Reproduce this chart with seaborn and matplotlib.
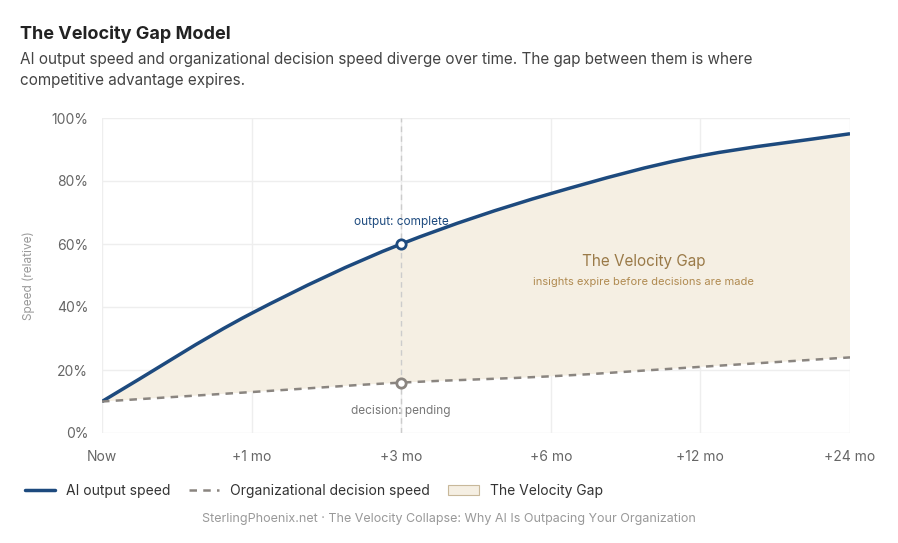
import matplotlib.pyplot as plt
import numpy as np
import seaborn as sns
from matplotlib.path import Path
from matplotlib.patches import PathPatch, Patch
from matplotlib.lines import Line2D

periods = ["Now", "+1 mo", "+3 mo", "+6 mo", "+12 mo", "+24 mo"]
ai_output = [10, 38, 60, 76, 88, 95]
org_decision = [10, 13, 16, 18, 21, 24]

BLUE = "#1d4a7e"
GREY = "#8a8580"
FILL = "#f5efe3"

sns.set_theme(style="white")
plt.rcParams["font.family"] = ["Inter", "DejaVu Sans"]


def smooth_verts(xs, ys):
    # cubic bezier segments with monotone tangents (chart-style smoothing)
    xs, ys = np.asarray(xs, float), np.asarray(ys, float)
    d = np.diff(ys) / np.diff(xs)
    m = np.zeros_like(ys)
    m[0], m[-1] = d[0], d[-1]
    for i in range(1, len(ys) - 1):
        m[i] = 0 if d[i - 1] * d[i] <= 0 else 2 / (1 / d[i - 1] + 1 / d[i])
    verts = [(xs[0], ys[0])]
    codes = [Path.MOVETO]
    for i in range(len(xs) - 1):
        h = xs[i + 1] - xs[i]
        verts += [(xs[i] + h / 3, ys[i] + m[i] * h / 3),
                  (xs[i + 1] - h / 3, ys[i + 1] - m[i + 1] * h / 3),
                  (xs[i + 1], ys[i + 1])]
        codes += [Path.CURVE4] * 3
    return verts, codes


fig = plt.figure(figsize=(8.98, 5.43), dpi=100)
ax = fig.add_axes([102 / 898, 110 / 543, 748 / 898, 315 / 543])
x = np.arange(len(periods))

v1, c1 = smooth_verts(x, ai_output)
v2, c2 = smooth_verts(x, org_decision)
# gap region: top curve forward, bottom curve reversed
rv = v2[::-1]
fill_verts = v1 + [rv[0]] + rv[1:] + [v1[0]]
fill_codes = c1 + [Path.LINETO] + c2[1:] + [Path.CLOSEPOLY]
ax.add_patch(PathPatch(Path(fill_verts, fill_codes), facecolor=FILL, edgecolor="none", zorder=1))
ax.add_patch(PathPatch(Path(v1, c1), facecolor="none", edgecolor=BLUE, lw=2.5, zorder=3))
ax.add_patch(PathPatch(Path(v2, c2), facecolor="none", edgecolor=GREY, lw=1.8, ls=(0, (3, 2.5)), zorder=3))

sns.scatterplot(x=[2], y=[ai_output[2]], ax=ax, s=45, color="white", edgecolor=BLUE, linewidth=2, zorder=4)
sns.scatterplot(x=[2], y=[org_decision[2]], ax=ax, s=45, color="white", edgecolor=GREY, linewidth=2, zorder=4)
ax.axvline(2, color="#cccccc", lw=1, ls=(0, (4, 3)), zorder=2)

ax.text(2, 65, "output: complete", ha="center", va="bottom", fontsize=8.5, color=BLUE)
ax.text(2, 9, "decision: pending", ha="center", va="top", fontsize=8.5, color="#777777")
ax.text(3.62, 54.5, "The Velocity Gap", ha="center", va="center", fontsize=11, color="#9a7a48")
ax.text(3.62, 48, "insights expire before decisions are made", ha="center", va="center", fontsize=8, color="#b08a50")

ax.set_xlim(0, 5)
ax.set_ylim(0, 100)
ax.set_xticks(x, periods)
ax.set_yticks(range(0, 101, 20), [f"{v}%" for v in range(0, 101, 20)])
ax.grid(True, color="#eeeeee", lw=1)
ax.set_axisbelow(True)
for s in ax.spines.values():
    s.set_visible(False)
ax.tick_params(colors="#666666", labelsize=10, length=0)
ax.tick_params(axis="x", pad=12)
ax.tick_params(axis="y", pad=10)
ax.set_ylabel("Speed (relative)", fontsize=8.5, color="#999999", labelpad=12)

fig.text(20 / 898, 1 - 34 / 543, "The Velocity Gap Model", fontsize=13, fontweight="bold", color="#222222", va="center")
fig.text(20 / 898, 1 - 60 / 543, "AI output speed and organizational decision speed diverge over time. The gap between them is where",
         fontsize=11, color="#444444", va="center")
fig.text(20 / 898, 1 - 80 / 543, "competitive advantage expires.", fontsize=11, color="#444444", va="center")

handles = [Line2D([], [], color=BLUE, lw=2.5),
           Line2D([], [], color=GREY, lw=1.8, ls=(0, (3, 2.5))),
           Patch(facecolor=FILL, edgecolor="#c8b89a", lw=0.8)]
fig.legend(handles, ["AI output speed", "Organizational decision speed", "The Velocity Gap"],
           loc="center left", bbox_to_anchor=(12 / 898, 1 - 491 / 543), ncol=3, frameon=False,
           fontsize=10, handlelength=2.2, columnspacing=1.3, labelcolor="#333333")
fig.text(449 / 898, 1 - 519 / 543, "SterlingPhoenix.net · The Velocity Collapse: Why AI Is Outpacing Your Organization",
         ha="center", va="center", fontsize=9, color="#999999")

fig.savefig("out.png", dpi=100)
